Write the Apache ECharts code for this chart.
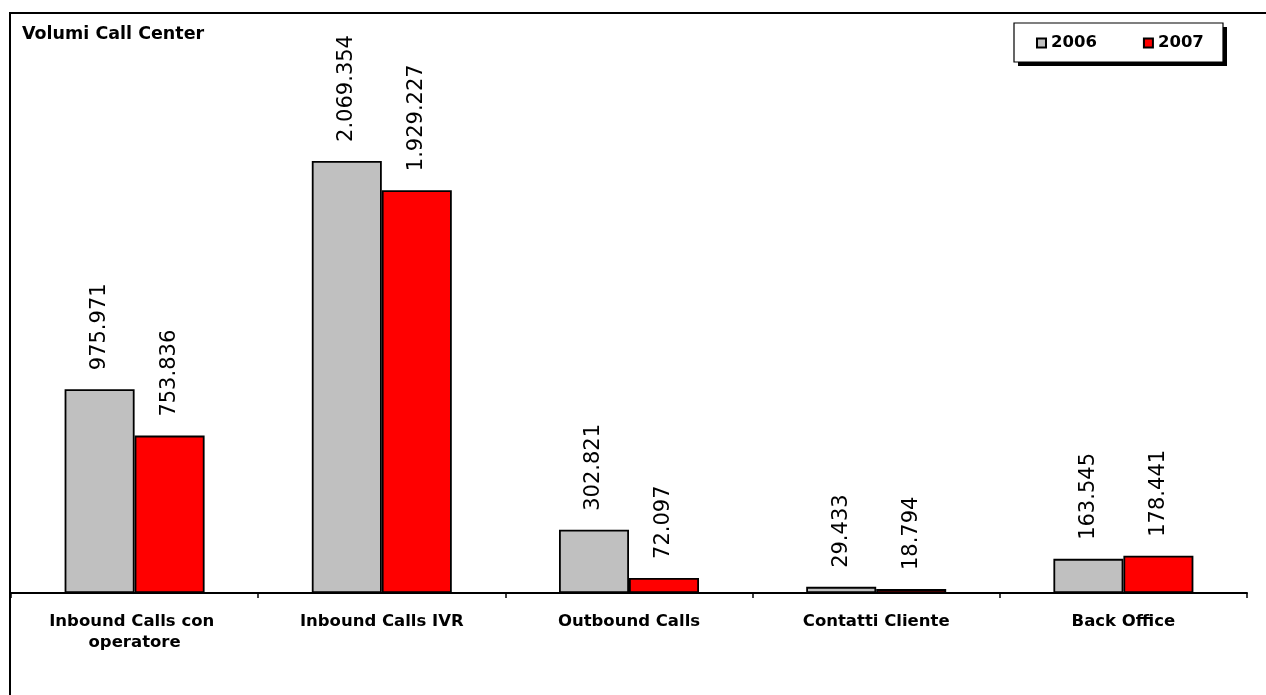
<!DOCTYPE html>
<html>
<head>
<meta charset="utf-8">
<script src="https://cdn.jsdelivr.net/npm/echarts@6/dist/echarts.min.js"></script>
<style>
  html, body { margin: 0; padding: 0; background: #ffffff; }
  #chart { width: 1266px; height: 695px; }
</style>
</head>
<body>
<div id="chart"></div>
<script>
// Call center volumes by channel, 2006 vs 2007
const categories = ['Inbound Calls con operatore', 'Inbound Calls IVR', 'Outbound Calls', 'Contatti Cliente', 'Back Office'];
const seriesNames = ['2006', '2007'];
const values2006 = [975971, 2069354, 302821, 29433, 163545];
const values2007 = [753836, 1929227, 72097, 18794, 178441];
const seriesColors = ['#C0C0C0', '#FF0000'];

// Italian thousands separator: 2069354 -> "2.069.354"
function fmt(v) {
  return String(v).replace(/\B(?=(\d{3})+(?!\d))/g, '.');
}

const chart = echarts.init(document.getElementById('chart'));

function makeSeries(name, data, color) {
  return {
    name: name,
    type: 'bar',
    data: data,
    barWidth: 70,
    barGap: '0%',
    itemStyle: { color: color, borderColor: '#000000', borderWidth: 1.8 },
    label: {
      show: true,
      position: 'top',
      rotate: 90,
      align: 'left',
      verticalAlign: 'middle',
      distance: 19,
      fontFamily: 'DejaVu Sans',
      fontSize: 21,
      color: '#000000',
      formatter: p => fmt(p.value)
    },
    emphasis: { disabled: true },
    animation: false
  };
}

chart.setOption({
  animation: false,
  backgroundColor: '#ffffff',
  title: {
    text: 'Volumi Call Center',
    left: 22,
    top: 25,
    padding: 0,
    textStyle: { fontFamily: 'DejaVu Sans', fontWeight: 'bold', fontSize: 17.5, color: '#000000' }
  },
  graphic: [
    // outer frame
    { type: 'rect', z: 0, silent: true,
      shape: { x: 10, y: 13, width: 1300, height: 800 },
      style: { fill: 'none', stroke: '#000000', lineWidth: 2 } },
    // legend box shadow
    { type: 'rect', z: 0, silent: true,
      shape: { x: 1018, y: 27, width: 209, height: 39 },
      style: { fill: '#000000' } },
    // legend box
    { type: 'rect', z: 0, silent: true,
      shape: { x: 1014, y: 23, width: 209, height: 39 },
      style: { fill: '#ffffff', stroke: '#000000', lineWidth: 1.2 } }
  ],
  legend: {
    data: seriesNames,
    left: 1036,
    top: 34,
    padding: 0,
    itemGap: 46,
    itemWidth: 9,
    itemHeight: 9,
    icon: 'rect',
    textStyle: { fontFamily: 'DejaVu Sans', fontWeight: 'bold', fontSize: 16.5, color: '#000000', lineHeight: 18 },
    z: 5
  },
  grid: { left: 11, right: 19, top: 71, bottom: 102, containLabel: false },
  xAxis: {
    type: 'category',
    data: categories,
    boundaryGap: true,
    axisLine: { show: true, lineStyle: { color: '#000000', width: 2 } },
    axisTick: { show: true, length: 5, alignWithLabel: false, lineStyle: { color: '#000000', width: 1.5 } },
    axisLabel: {
      interval: 0,
      margin: 18,
      width: 215,
      overflow: 'break',
      lineHeight: 21,
      fontFamily: 'DejaVu Sans',
      fontWeight: 'bold',
      fontSize: 16.5,
      color: '#000000'
    },
    splitLine: { show: false }
  },
  yAxis: {
    type: 'value',
    show: false,
    min: 0,
    max: 2500000,
    splitLine: { show: false }
  },
  series: [
    makeSeries(seriesNames[0], values2006, seriesColors[0]),
    makeSeries(seriesNames[1], values2007, seriesColors[1])
  ]
});
</script>
</body>
</html>
